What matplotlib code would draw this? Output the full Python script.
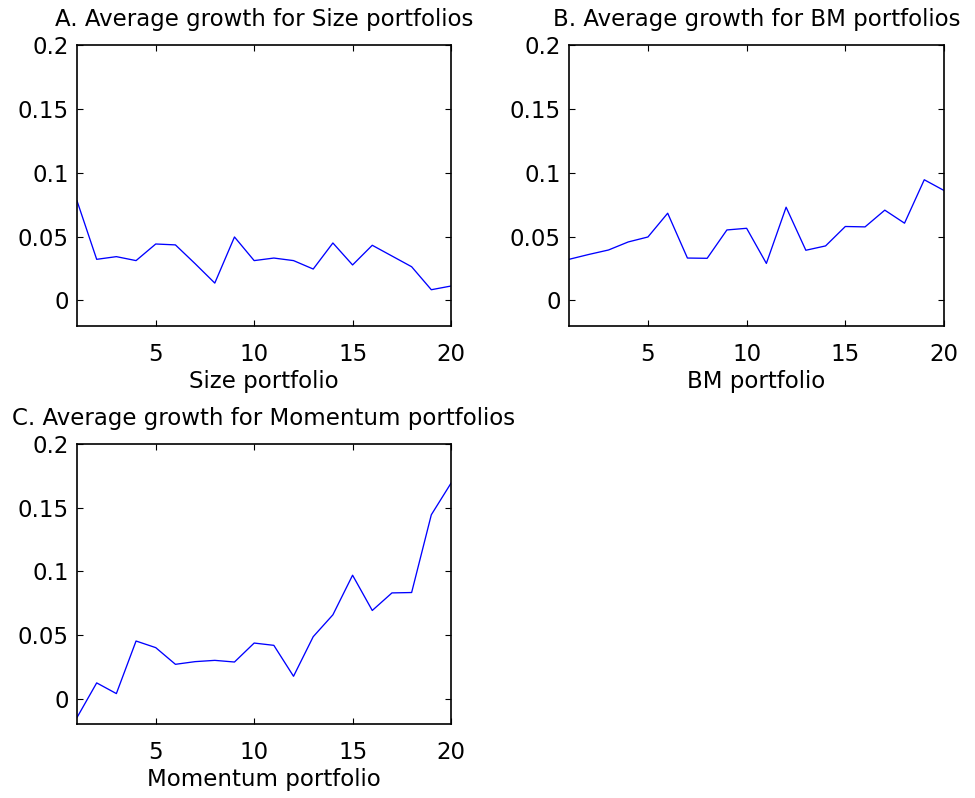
import matplotlib
matplotlib.use("Agg")
import matplotlib.pyplot as plt
import numpy as np

plt.rcParams["font.family"] = ["DejaVu Sans"]

portfolios = list(range(1, 21))

size_growth = [0.078, 0.0322, 0.0343, 0.0312, 0.0442, 0.0435, 0.0288, 0.0136,
               0.0497, 0.0312, 0.0332, 0.0312, 0.0246, 0.0450, 0.0278, 0.0432,
               0.0348, 0.0264, 0.0084, 0.0113]

bm_growth = [0.0322, 0.0360, 0.0395, 0.0458, 0.0497, 0.0683, 0.0332, 0.0330,
             0.0552, 0.0565, 0.0290, 0.0730, 0.0393, 0.0427, 0.0579, 0.0576,
             0.0707, 0.0605, 0.0945, 0.0861]

momentum_growth = [-0.0149, 0.0123, 0.0039, 0.0452, 0.0400, 0.0269, 0.0290, 0.0300,
                   0.0287, 0.0436, 0.0418, 0.0175, 0.0486, 0.0658, 0.0969, 0.0692,
                   0.0830, 0.0833, 0.1444, 0.1692]

titles = ["A. Average growth for Size portfolios",
          "B. Average growth for BM portfolios",
          "C. Average growth for Momentum portfolios"]
xlabels = ["Size portfolio", "BM portfolio", "Momentum portfolio"]
xticks = [5, 10, 15, 20]
yticks = [0, 0.05, 0.1, 0.15, 0.2]
ytick_labels = ["0", "0.05", "0.1", "0.15", "0.2"]

W, H = 975, 798
fig = plt.figure(figsize=(W / 100, H / 100), dpi=100)

# axes boxes in pixels: left, top, right, bottom
boxes = [(77, 45, 451, 326), (569, 45, 944, 326), (77, 444, 451, 724)]
series = [size_growth, bm_growth, momentum_growth]

FS = 16.5
for (l, t, r, b), data, title, xl in zip(boxes, series, titles, xlabels):
    ax = fig.add_axes([l / W, 1 - b / H, (r - l) / W, (b - t) / H])
    ax.plot(portfolios, data, color=(0, 0, 1), linewidth=0.95)
    ax.set_xlim(1, 20)
    ax.set_ylim(-0.02, 0.2)
    ax.set_xticks(xticks)
    ax.set_xticklabels([str(v) for v in xticks])
    ax.set_yticks(yticks)
    ax.set_yticklabels(ytick_labels)
    ax.tick_params(direction="in", top=True, right=True, length=4, width=0.8,
                   labelsize=FS, colors="black")
    ax.tick_params(axis="x", pad=12)
    ax.tick_params(axis="y", pad=6)
    for s in ax.spines.values():
        s.set_linewidth(1.2)
    ax.set_title(title, fontsize=FS, pad=14)
    ax.set_xlabel(xl, fontsize=FS, labelpad=3)

fig.savefig("out.png", dpi=100, facecolor="white")
